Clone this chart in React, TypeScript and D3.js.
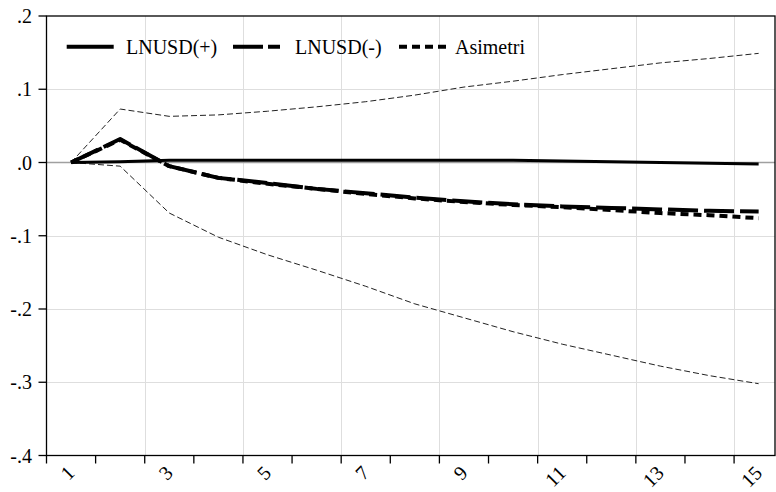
import { useEffect, useRef } from 'react'
import * as d3 from 'd3'

const periods = [1, 2, 3, 4, 5, 6, 7, 8, 9, 10, 11, 12, 13, 14, 15]
const lnusdPos = [0, 0.001, 0.003, 0.003, 0.003, 0.003, 0.003, 0.003, 0.003, 0.003, 0.002, 0.001, 0.0, -0.001, -0.002]
const lnusdNeg = [0, 0.032, -0.005, -0.021, -0.028, -0.036, -0.042, -0.048, -0.053, -0.057, -0.06, -0.062, -0.064, -0.066, -0.067]
const asimetri = [0, 0.031, -0.005, -0.021, -0.029, -0.036, -0.043, -0.049, -0.054, -0.058, -0.061, -0.065, -0.069, -0.072, -0.076]
const upperBand = [0, 0.073, 0.063, 0.065, 0.07, 0.076, 0.083, 0.092, 0.103, 0.111, 0.12, 0.128, 0.136, 0.142, 0.149]
const lowerBand = [0, -0.005, -0.069, -0.102, -0.126, -0.147, -0.169, -0.193, -0.212, -0.231, -0.248, -0.263, -0.278, -0.291, -0.302]
const yTicks = [0.2, 0.1, 0, -0.1, -0.2, -0.3, -0.4]
const yTickLabels = ['.2', '.1', '.0', '-.1', '-.2', '-.3', '-.4']
const xLabelPeriods = [1, 3, 5, 7, 9, 11, 13, 15]
const legendNames = ['LNUSD(+)', 'LNUSD(-)', 'Asimetri']

function App() {
  const svgRef = useRef<SVGSVGElement>(null)

  useEffect(() => {
    const width = 776
    const height = 492
    const left = 46.5, top = 16, bottom = 455.5, right = 775
    const font = 'Liberation Serif, DejaVu Serif, serif'

    const svg = d3.select(svgRef.current)
    svg.selectAll('*').remove()
    svg.attr('width', width).attr('height', height)

    svg.append('rect').attr('width', width).attr('height', height).attr('fill', '#fff')

    const x = d3.scaleLinear().domain([0.5, 15.5]).range([left, 783.2])
    const y = d3.scaleLinear().domain([-0.4, 0.2]).range([bottom, top])

    // grid
    const grid = svg.append('g')
    ;[-0.3, -0.2, -0.1, 0.1].forEach(v => {
      grid.append('line')
        .attr('x1', left).attr('x2', right)
        .attr('y1', Math.round(y(v)) + 0.5).attr('y2', Math.round(y(v)) + 0.5)
        .attr('stroke', '#dedede').attr('stroke-width', 1)
    })
    d3.range(2, 15, 2).forEach(k => {
      const gx = Math.round(x(k + 0.5)) + 0.5
      grid.append('line')
        .attr('x1', gx).attr('x2', gx)
        .attr('y1', top).attr('y2', bottom)
        .attr('stroke', '#dedede').attr('stroke-width', 1)
    })
    // zero line
    grid.append('line')
      .attr('x1', left).attr('x2', right)
      .attr('y1', y(0)).attr('y2', y(0))
      .attr('stroke', '#a0a0a0').attr('stroke-width', 1.5)

    const line = (vals: number[]) =>
      d3.line<number>().x((_, i) => x(periods[i])).y(d => y(d))(vals)

    const series = [
      { vals: upperBand, w: 1, dash: '6 3', color: '#222' },
      { vals: lowerBand, w: 1, dash: '6 3', color: '#222' },
      { vals: lnusdPos, w: 3, dash: null, color: '#000' },
      { vals: lnusdNeg, w: 4, dash: '30 6', color: '#000' },
      { vals: asimetri, w: 4, dash: '8 5', color: '#000' },
    ]
    series.forEach(s => {
      const p = svg.append('path')
        .attr('d', line(s.vals))
        .attr('fill', 'none')
        .attr('stroke', s.color)
        .attr('stroke-width', s.w)
        .attr('stroke-linejoin', 'round')
      if (s.dash) p.attr('stroke-dasharray', s.dash)
    })

    // frame
    svg.append('rect')
      .attr('x', left).attr('y', top)
      .attr('width', right - left).attr('height', bottom - top)
      .attr('fill', 'none').attr('stroke', '#000').attr('stroke-width', 1.3)

    // y axis
    yTicks.forEach((v, i) => {
      svg.append('line')
        .attr('x1', left - 8).attr('x2', left)
        .attr('y1', y(v)).attr('y2', y(v))
        .attr('stroke', '#000').attr('stroke-width', 1.3)
      svg.append('text')
        .attr('x', 32).attr('y', y(v))
        .attr('dy', '0.35em')
        .attr('text-anchor', 'end')
        .attr('font-family', font)
        .attr('font-size', 20)
        .attr('fill', '#000')
        .text(yTickLabels[i])
    })

    // x axis ticks at period boundaries
    d3.range(0, 16).forEach(k => {
      const tx = x(k + 0.5)
      if (tx > right) return
      svg.append('line')
        .attr('x1', tx).attr('x2', tx)
        .attr('y1', bottom).attr('y2', bottom + 8)
        .attr('stroke', '#000').attr('stroke-width', 1.3)
    })
    xLabelPeriods.forEach(p => {
      svg.append('text')
        .attr('transform', `translate(${x(p) - 3},${bottom + 11}) rotate(-45)`)
        .attr('dy', '0.55em')
        .attr('text-anchor', 'end')
        .attr('font-family', font)
        .attr('font-size', 20)
        .attr('fill', '#000')
        .text(String(p))
    })

    // legend
    const legendY = 46.7
    const legendItems = [
      { x1: 66.7, tx: 126, w: 4, dash: null },
      { x1: 233, tx: 295, w: 4, dash: '30 5' },
      { x1: 399, tx: 455, w: 4, dash: '8 5' },
    ]
    legendItems.forEach((it, i) => {
      const l = svg.append('line')
        .attr('x1', it.x1).attr('x2', it.x1 + 47)
        .attr('y1', legendY).attr('y2', legendY)
        .attr('stroke', '#000').attr('stroke-width', it.w)
      if (it.dash) l.attr('stroke-dasharray', it.dash)
      svg.append('text')
        .attr('x', it.tx).attr('y', legendY)
        .attr('dy', '0.35em')
        .attr('font-family', font)
        .attr('font-size', 20)
        .attr('fill', '#000')
        .text(legendNames[i])
    })
  }, [])

  return <svg ref={svgRef} style={{ position: 'absolute', left: 0, top: 0 }} />
}

export default App
